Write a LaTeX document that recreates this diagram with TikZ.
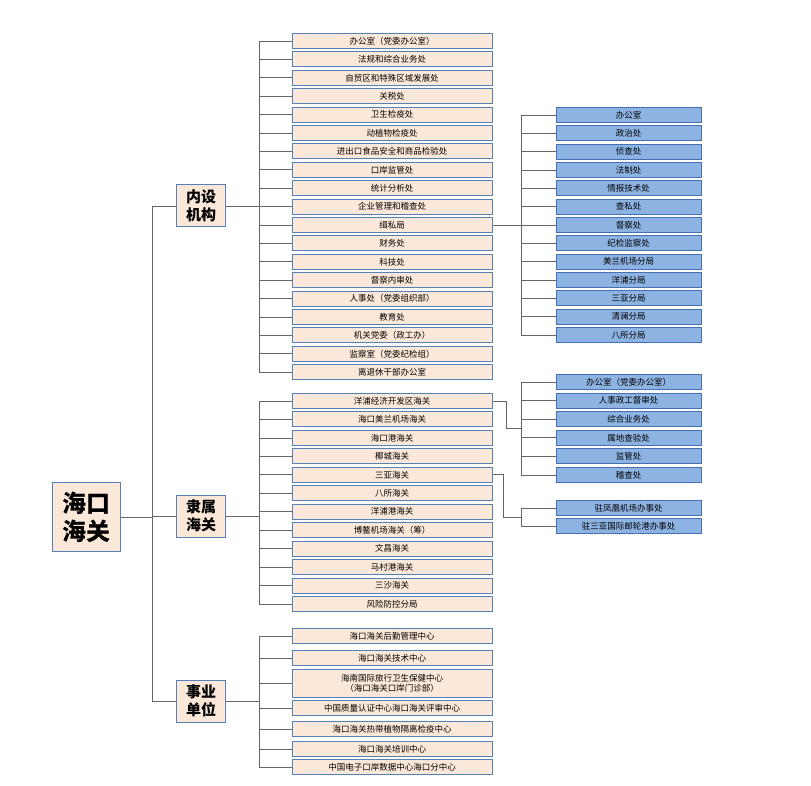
\documentclass[tikz,border=0pt]{standalone}
\usepackage{fontspec}
\setmainfont{Noto Sans CJK SC}
\definecolor{peach}{RGB}{252,232,216}
\definecolor{peachline}{RGB}{88,128,184}
\definecolor{bluebox}{RGB}{141,179,226}
\definecolor{blueline}{RGB}{70,112,180}
\begin{document}
\begin{tikzpicture}[x=1pt,y=-1pt,
      item/.style={draw=peachline,fill=peach,line width=1pt,minimum width=200pt,minimum height=15pt,inner sep=0pt,font=\fontsize{8.5}{10}\selectfont,align=center},
      blueitem/.style={draw=blueline,fill=bluebox,line width=1pt,minimum width=145pt,minimum height=15pt,inner sep=0pt,font=\fontsize{8.5}{10}\selectfont},
      group/.style={draw=peachline,fill=peach,line width=1pt,minimum width=49pt,minimum height=42pt,inner sep=0pt,font=\fontsize{15}{18}\selectfont\bfseries,align=center},
      link/.style={draw=gray!80!black,line width=0.7pt}
      ]
      \useasboundingbox (0,0) rectangle (811,786);
      \node[group,minimum width=68pt,minimum height=69pt,font=\fontsize{24}{28}\selectfont\bfseries] (root) at (86,517) {海口\\海关};
      \node[group] (nsjg) at (201,206) {内设\\机构};
      \node[group] (lshg) at (201,516) {隶属\\海关};
      \node[group] (sydw) at (201,701) {事业\\单位};
      \coordinate (trunk) at (152,0);
      \coordinate (bus) at (259,0);
      \coordinate (bluebus) at (521,0);

      % first level
      \draw[link] (root.east) -- (root.east -| trunk);
      \draw[link] (nsjg.west -| trunk) -- (sydw.west -| trunk);
      \foreach \g in {nsjg,lshg,sydw}
        \draw[link] (\g.west -| trunk) -- (\g.west) (\g.east) -- (\g.east -| bus);

      % internal departments
      \foreach \t [count=\i] in {办公室（党委办公室）,法规和综合业务处,自贸区和特殊区域发展处,关税处,卫生检疫处,动植物检疫处,进出口食品安全和商品检验处,口岸监管处,统计分析处,企业管理和稽查处,缉私局,财务处,科技处,督察内审处,人事处（党委组织部）,教育处,机关党委（政工办）,监察室（党委纪检组）,离退休干部办公室}
        \node[item] (ns\i) at (392,{41+(\i-1)*18.4}) {\t};
      \foreach \i in {1,...,19}
        \draw[link] (ns\i.west) -- (ns\i.west -| bus);
      \draw[link] (ns1.west -| bus) -- (ns19.west -| bus);

      % subordinate customs
      \foreach \t [count=\i] in {洋浦经济开发区海关,海口美兰机场海关,海口港海关,椰城海关,三亚海关,八所海关,洋浦港海关,博鳌机场海关（筹）,文昌海关,马村港海关,三沙海关,风险防控分局}
        \node[item] (ls\i) at (392,{401+(\i-1)*18.45}) {\t};
      \foreach \i in {1,...,12}
        \draw[link] (ls\i.west) -- (ls\i.west -| bus);
      \draw[link] (ls1.west -| bus) -- (ls12.west -| bus);

      % public institutions
      \foreach \t/\y [count=\i] in {海口海关后勤管理中心/636,海口海关技术中心/658,{海南国际旅行卫生保健中心\\（海口海关口岸门诊部）}/683,中国质量认证中心海口海关评审中心/708,海口海关热带植物隔离检疫中心/729,海口海关培训中心/749,中国电子口岸数据中心海口分中心/767}
        \node[item] (sy\i) at (392,\y) {\t};
      \path (sy3) node[item,minimum height=28pt] {海南国际旅行卫生保健中心\\（海口海关口岸门诊部）};
      \foreach \i in {1,...,7}
        \draw[link] (sy\i.west) -- (sy\i.west -| bus);
      \draw[link] (sy1.west -| bus) -- (sy7.west -| bus);

      % anti-smuggling bureau
      \foreach \t [count=\i] in {办公室,政治处,侦查处,法制处,情报技术处,查私处,督察处,纪检监察处,美兰机场分局,洋浦分局,三亚分局,清澜分局,八所分局}
        \node[blueitem] (js\i) at (628.5,{115+(\i-1)*18.33}) {\t};
      \foreach \i in {1,...,13}
        \draw[link] (js\i.west) -- (js\i.west -| bluebus);
      \draw[link] (js1.west -| bluebus) -- (js13.west -| bluebus);
      \draw[link] (ns11.east) -- (ns11.east -| bluebus);

      % Yangpu
      \foreach \t [count=\i] in {办公室（党委办公室）,人事政工督审处,综合业务处,属地查验处,监管处,稽查处}
        \node[blueitem] (yp\i) at (628.5,{382+(\i-1)*18.6}) {\t};
      \foreach \i in {1,...,6}
        \draw[link] (yp\i.west) -- (yp\i.west -| bluebus);
      \draw[link] (yp1.west -| bluebus) -- (yp6.west -| bluebus);
      \coordinate (ypmid) at (521,428.5);
      \draw[link] (ls1.east) -- ++(14,0) |- (ypmid);

      % Sanya
      \foreach \t [count=\i] in {驻凤凰机场办事处,驻三亚国际邮轮港办事处}
        \node[blueitem] (sa\i) at (628.5,{508+(\i-1)*18}) {\t};
      \foreach \i in {1,2}
        \draw[link] (sa\i.west) -- (sa\i.west -| bluebus);
      \draw[link] (sa1.west -| bluebus) -- (sa2.west -| bluebus);
      \coordinate (samid) at (521,517);
      \draw[link] (ls5.east) -- ++(11,0) |- (samid);
\end{tikzpicture}
\end{document}
